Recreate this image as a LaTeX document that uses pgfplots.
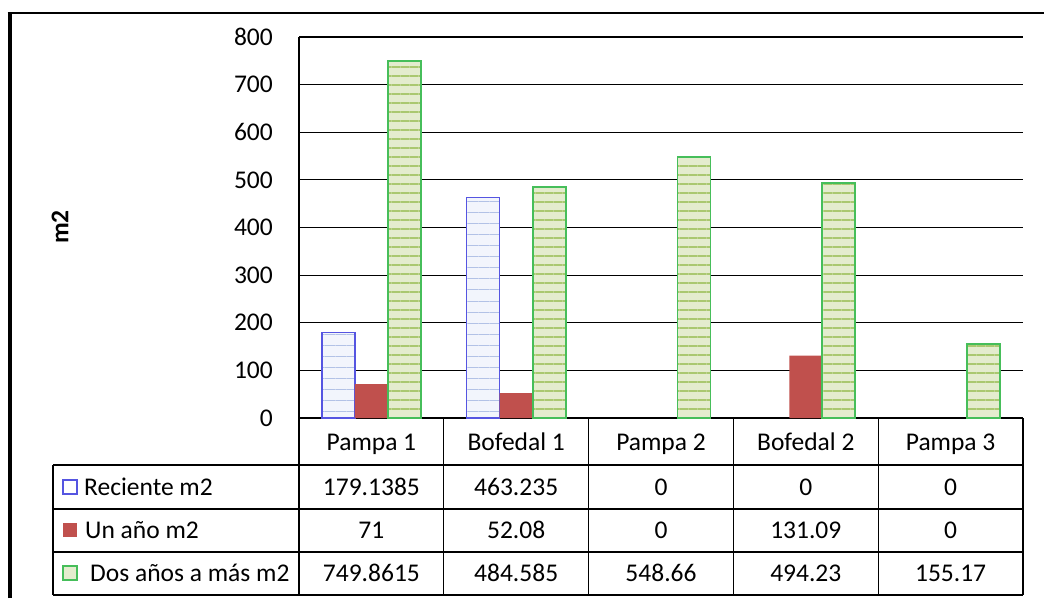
\documentclass[border=0pt]{standalone}
\usepackage{pgfplots}
\pgfplotsset{compat=1.18}
\usepackage{pgfplotstable}
\usetikzlibrary{patterns.meta}
\usepackage{fontspec}
\setmainfont{Carlito}

\definecolor{recBorder}{RGB}{85,85,225}
\definecolor{recFill}{RGB}{242,245,252}
\definecolor{recStreak}{RGB}{178,194,230}
\definecolor{unoFill}{RGB}{192,80,77}
\definecolor{dosBorder}{RGB}{70,190,90}
\definecolor{dosFill}{RGB}{228,236,206}
\definecolor{dosStreak}{RGB}{170,200,112}

\newcommand\cf{\fontsize{25.5}{30}\selectfont}

% surface (m2) per site and age class
\pgfplotstableread{
idx rec uno dos
0 179.1385 71 749.8615
1 463.235 52.08 484.585
2 0 0 548.66
3 0 131.09 494.23
4 0 0 155.17
}\areas

\begin{document}
\begin{tikzpicture}[x=1pt,y=1pt]
\path[use as bounding box] (0pt,0pt) rectangle (1044pt,-598pt);
% outer frame
\draw[line width=4pt] (9.5,-598) -- (9.5,-12.5);
\draw[line width=2pt] (7.5,-12.5) -- (1044,-12.5);

\begin{axis}[
  at={(299pt,-418pt)}, anchor=south west,
  scale only axis, width=724pt, height=381pt,
  ymin=0, ymax=800, ytick={0,100,...,800},
  xmin=-0.5, xmax=4.5, xtick={0,...,4},
  xticklabels={Pampa 1,Bofedal 1,Pampa 2,Bofedal 2,Pampa 3},
  axis x line*=bottom, axis y line*=left,
  axis line style={-, line width=1.2pt, black},
  ymajorgrids, grid style={black, line width=1.1pt},
  major tick length=0pt,
  /pgf/number format/assume math mode=true,
  yticklabel style={font=\cf, anchor=east, inner sep=0pt, xshift=-26pt},
  xticklabel style={font=\cf, anchor=base, inner sep=0pt, yshift=-32pt},
  ybar=0pt, bar width=33pt,
  restrict y to domain=0.001:1000,
  clip=false,
]
\addplot[ybar, bar shift=-33pt, draw=recBorder, line width=1.5pt, fill=recFill,
  postaction={pattern={Lines[angle=0,distance=11pt,line width=1pt]}, pattern color=recStreak}]
  table[x=idx, y=rec]{\areas};
\addplot[ybar, bar shift=0pt, draw=none, fill=unoFill]
  table[x=idx, y=uno]{\areas};
\addplot[ybar, bar shift=33pt, draw=dosBorder, line width=1.8pt, fill=dosFill,
  postaction={pattern={Lines[angle=0,distance=9pt,line width=2.5pt]}, pattern color=dosStreak}]
  table[x=idx, y=dos]{\areas};
\end{axis}

% y axis title
\node[rotate=90, font=\cf\bfseries] at (60,-227) {m2};

% data table grid
\foreach \xx in {299,443.8,588.6,733.4,878.2,1023}
  \draw[line width=1.3pt] (\xx,-418) -- (\xx,-595);
\draw[line width=1.3pt] (53,-465) -- (53,-595);
\foreach \yy in {465,509,552,595}
  \draw[line width=1.3pt] (53,-\yy) -- (1023,-\yy);

% legend keys and series names
\draw[recBorder, line width=1.2pt, fill=white] (63,-480) rectangle (77,-494);
\node[font=\cf, anchor=base west, inner sep=0pt] at (84,-495) {Reciente m2};
\fill[unoFill] (63,-523) rectangle (77,-537);
\node[font=\cf, anchor=base west, inner sep=0pt] at (85,-538.5) {Un año m2};
\draw[dosBorder, line width=1.2pt, fill=dosFill] (63,-566) rectangle (77,-580);
\node[font=\cf, anchor=base west, inner sep=0pt] at (90,-581.5) {Dos años a más m2};

% table values
\foreach \c in {0,...,4}{
  \pgfmathsetmacro\xc{371.4+144.8*\c}
  \pgfplotstablegetelem{\c}{rec}\of\areas
  \node[font=\cf, anchor=base, inner sep=0pt] at (\xc,-495) {\pgfplotsretval};
  \pgfplotstablegetelem{\c}{uno}\of\areas
  \node[font=\cf, anchor=base, inner sep=0pt] at (\xc,-538.5) {\pgfplotsretval};
  \pgfplotstablegetelem{\c}{dos}\of\areas
  \node[font=\cf, anchor=base, inner sep=0pt] at (\xc,-581.5) {\pgfplotsretval};
}
\end{tikzpicture}
\end{document}
